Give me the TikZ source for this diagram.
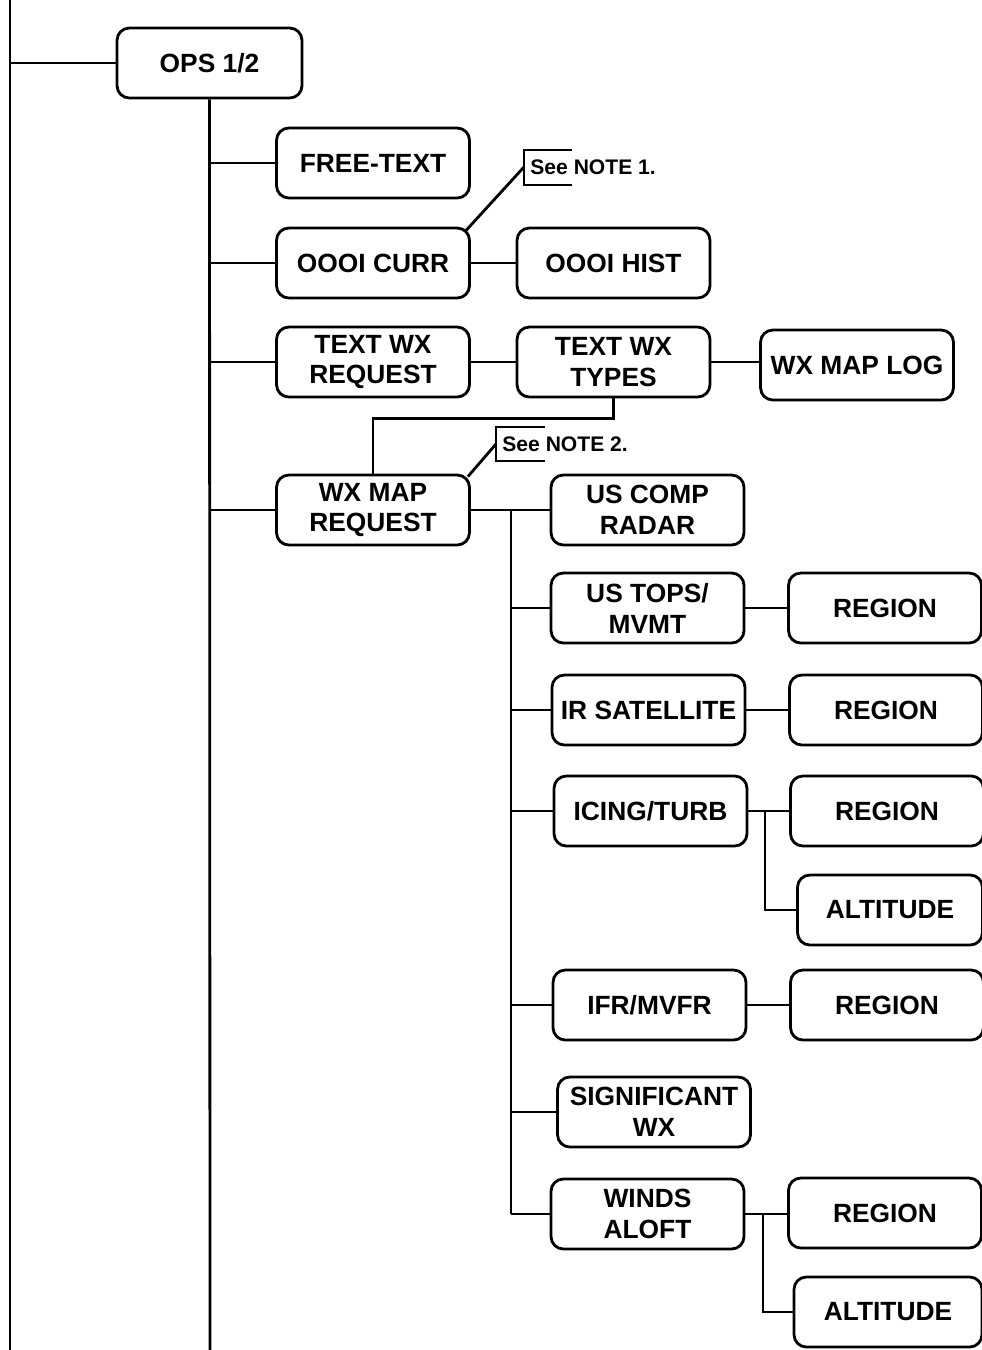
\documentclass[tikz,border=0pt]{standalone}
\usepackage{fontspec}
\setmainfont{Liberation Sans}
\usetikzlibrary{positioning}

\begin{document}
\begin{tikzpicture}[
      x=0.02cm, y=-0.02cm,
      font=\fontsize{15}{17.6}\selectfont\bfseries,
      line width=1.6pt,
      box/.style={draw, rounded corners=7pt, align=center, inner sep=2pt,
        minimum width=3.86cm, minimum height=1.4cm},
      note/.style={font=\fontsize{12}{14}\selectfont\bfseries, anchor=west, inner sep=0pt}]
    \useasboundingbox (0,0) rectangle (982,1350);
    % left edge and main trunk
    \coordinate (ltop) at (10,0);
    \coordinate (lbot) at (10,1350);
    \coordinate (lops) at (10,63);
    \coordinate (tbot) at (210,1350);
    \draw (ltop) -- (lbot);
    \node[box, minimum width=3.7cm] (ops) at (209.5,63) {OPS 1/2};
    \draw (lops) -- (ops.west);
    \draw (ops.south) -- (tbot);
    % first level
    \node[box] (free) at (373,163) {FREE-TEXT};
    \node[box] (curr) at (373,263) {OOOI CURR};
    \node[box] (hist) at (613.5,263) {OOOI HIST};
    \node[box] (txtreq) at (373,362) {TEXT WX\\REQUEST};
    \node[box] (txttypes) at (613.5,362) {TEXT WX\\TYPES};
    \node[box] (maplog) at (857,365) {WX MAP LOG};
    \node[box] (mapreq) at (373,510) {WX MAP\\REQUEST};
    \foreach \n in {free,curr,txtreq,mapreq}
      \draw (ops.south |- \n.west) -- (\n.west);
    \draw (curr) -- (hist);
    \draw (txtreq) -- (txttypes);
    \draw (txttypes.east) -- (maplog.west |- txttypes.east);
    \draw (txttypes.south) -- ++(0,20) -| (mapreq.north);
    % notes
    \coordinate (n1b) at (524,167);
    \node[note] (n1) at (529,167) {See NOTE 1.};
    \draw ([shift={(48,-17)}]n1b) -- ([shift={(0,-17)}]n1b) -- ([shift={(0,18)}]n1b) -- ([shift={(48,18)}]n1b);
    \draw ([shift={(-5,4)}]curr.north east) -- (n1b);
    \coordinate (n2b) at (496,444);
    \node[note] (n2) at (501,444) {See NOTE 2.};
    \draw ([shift={(49,-17)}]n2b) -- ([shift={(0,-17)}]n2b) -- ([shift={(0,17)}]n2b) -- ([shift={(49,17)}]n2b);
    \draw ([shift={(-3,3)}]mapreq.north east) -- (n2b);
    % map types
    \node[box] (comp) at (647.5,510) {US COMP\\RADAR};
    \node[box] (tops) at (647.5,608) {US TOPS/\\MVMT};
    \node[box] (irsat) at (648.5,710) {IR SATELLITE};
    \node[box] (icing) at (650.5,811) {ICING/TURB};
    \node[box] (ifr) at (649.5,1005) {IFR/MVFR};
    \node[box] (sigwx) at (654,1112) {SIGNIFICANT\\WX};
    \node[box] (winds) at (647.5,1214) {WINDS\\ALOFT};
    \coordinate (sub) at (511,510);
    \draw (mapreq) -- (comp);
    \draw (sub) -- (sub |- winds.west);
    \foreach \n in {tops,irsat,icing,ifr,sigwx,winds}
      \draw (sub |- \n.west) -- (\n.west);
    % regions and altitudes
    \node[box] (reg1) at (885,608) {REGION};
    \node[box] (reg2) at (886,710) {REGION};
    \node[box] (reg3) at (887,811) {REGION};
    \node[box, minimum width=3.7cm] (alt1) at (890,910) {ALTITUDE};
    \node[box] (reg4) at (887,1005) {REGION};
    \node[box] (reg5) at (885,1213) {REGION};
    \node[box, minimum width=3.76cm] (alt2) at (888,1312) {ALTITUDE};
    \draw (tops.east) -- (reg1.west |- tops.east);
    \draw (irsat) -- (reg2);
    \draw (icing) -- (reg3);
    \draw (ifr) -- (reg4);
    \draw (winds.east) -- (reg5.west |- winds.east);
    \coordinate (ibr) at (765,811);
    \draw (ibr) |- (alt1.west);
    \coordinate (wbr) at (763,1213);
    \draw (wbr) |- (alt2.west);
  \end{tikzpicture}
\end{document}
